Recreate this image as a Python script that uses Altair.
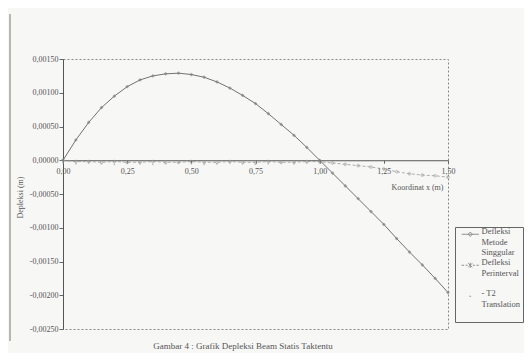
import altair as alt
import pandas as pd

# ---- data ----
x_vals = [0.00, 0.05, 0.10, 0.15, 0.20, 0.25, 0.30, 0.35, 0.40, 0.45, 0.50,
          0.55, 0.60, 0.65, 0.70, 0.75, 0.80, 0.85, 0.90, 0.95, 1.00,
          1.05, 1.10, 1.15, 1.20, 1.25, 1.30, 1.35, 1.40, 1.45, 1.50]

defl_singular = [0.0, 0.00030, 0.00056, 0.00078, 0.00095, 0.00109, 0.00119, 0.00125,
                 0.00128, 0.00129, 0.00127, 0.00123, 0.00116, 0.00107, 0.00096,
                 0.00084, 0.00069, 0.00053, 0.00037, 0.00019, 0.0,
                 -0.00019, -0.00038, -0.00057, -0.00076, -0.00095, -0.00116,
                 -0.00136, -0.00155, -0.00175, -0.00196]

defl_perinterval = [0.0, -0.00002, -0.00002, -0.00003, -0.00002, -0.00003, -0.00003,
                    -0.00002, -0.00003, -0.00003, -0.00002, -0.00003, -0.00003,
                    -0.00002, -0.00003, -0.00003, -0.00002, -0.00003, -0.00003,
                    -0.00002, -0.00002, -0.00004, -0.00006, -0.00008, -0.00010,
                    -0.00013, -0.00017, -0.00020, -0.00022, -0.00023, -0.00025]

t2_translation = [-0.00004, -0.00005, -0.00004, -0.00005, -0.00006, -0.00004, -0.00005,
                  -0.00006, -0.00005, -0.00004, -0.00005, -0.00006, -0.00005,
                  -0.00004, -0.00005, -0.00006, -0.00005, -0.00004, -0.00005,
                  -0.00004, -0.00004]

legend_labels = ["Defleksi|Metode|Singgular", "Defleksi|Perinterval| ", "- T2|Translation| "]
y_ticks = [0.0015, 0.001, 0.0005, 0.0, -0.0005, -0.001, -0.0015, -0.002, -0.0025]
x_ticks = [0.0, 0.25, 0.5, 0.75, 1.0, 1.25, 1.5]
caption = "Gambar 4 : Grafik Depleksi Beam Statis Taktentu"

FONT = "Liberation Serif"

df = pd.DataFrame({"x": x_vals, "s1": defl_singular, "s2": defl_perinterval})
df3 = pd.DataFrame({"x": x_vals[:len(t2_translation)], "s3": t2_translation})

xenc = alt.X("x:Q",
             scale=alt.Scale(domain=[0, 1.5], nice=False, zero=False),
             axis=alt.Axis(values=x_ticks,
                           labelExpr="replace(format(datum.value, '.2f'), '.', ',')",
                           offset=-168.75, title="Koordinat x (m)",
                           titleX=380, titleY=27, titleAlign="right",
                           titleBaseline="middle", titleFontWeight="normal",
                           titleFont=FONT, titleFontSize=8, titleColor="#555",
                           labelFont=FONT, labelFontSize=8, labelColor="#555",
                           tickSize=3, labelPadding=4, labelFlush=False,
                           domainColor="#555", tickColor="#666", grid=False))

def yenc(field):
    return alt.Y(field + ":Q",
                 scale=alt.Scale(domain=[-0.0025, 0.0015], nice=False, zero=False),
                 axis=alt.Axis(values=y_ticks,
                               labelExpr="replace(replace(format(datum.value, '.5f'), '.', ','), '\u2212', '-')",
                               title="Depleksi (m)", titleX=-43, titleY=138,
                               titleAngle=-90, titleAlign="center",
                               titleBaseline="middle", titleFontWeight="normal",
                               titleFont=FONT, titleFontSize=8, titleColor="#555",
                               labelFont=FONT, labelFontSize=8, labelColor="#555",
                               tickSize=4, labelPadding=1, labelFlush=False,
                               domainColor="#555", tickColor="#666", grid=False))

base = alt.Chart(df)

line1 = base.mark_line(color="#727272", strokeWidth=1).encode(x=xenc, y=yenc("s1"))
pts1 = base.mark_point(shape="diamond", filled=True, size=14, color="#7e7e7e").encode(
    x=xenc, y=yenc("s1"))

line2 = base.mark_line(color="#9a9a9a", strokeWidth=0.8, strokeDash=[3, 2]).encode(
    x=xenc, y=yenc("s2"))
pts2 = base.mark_point(shape="cross", filled=False, size=8, strokeWidth=0.7,
                       color="#9a9a9a").encode(x=xenc, y=yenc("s2"))

pts3 = alt.Chart(df3).mark_circle(size=3, color="#a5a5a5").encode(x=xenc, y=yenc("s3"))

# legend glyphs: short line segment with the series marker (unit = 2 px at size 16)
shape_paths = [
    "M-4.3,0H4.3M-1.1,0L0,-1.1L1.1,0L0,1.1Z",
    "M-4.3,0H-3.1M-2.3,0H-1.3M1.3,0H2.3M3.1,0H4.3M-1,-1L1,1M-1,1L1,-1M0,-1.3V1.3",
    "M-0.4,0H0.4",
]

legend_layer = base.transform_filter("datum.x > 10").mark_point(filled=False).encode(
    x=xenc, y=yenc("s1"),
    shape=alt.Shape("lab:N",
                    scale=alt.Scale(domain=legend_labels, range=shape_paths),
                    legend=alt.Legend(title=None, orient="none", legendX=392, legendY=168,
                                      strokeColor="#666", fillColor="#f7f7f5",
                                      padding=3, symbolSize=16, symbolStrokeWidth=1,
                                      symbolOffset=8,
                                      symbolStrokeColor="#666", symbolFillColor="transparent",
                                      labelExpr="split(datum.label, '|')",
                                      labelFont=FONT, labelFontSize=8.5, labelColor="#555",
                                      labelBaseline="alphabetic", labelOffset=7, rowPadding=1,
                                      labelLimit=80)))

cap = alt.Chart(pd.DataFrame({"t": [caption]})).mark_text(
    font=FONT, fontSize=9, color="#555", align="center", baseline="middle").encode(
    text="t:N", x=alt.value(180), y=alt.value(287))

frame = alt.Chart(pd.DataFrame({"a": [0]})).mark_rule(color="#777", strokeWidth=1).encode(
    x=alt.value(-53), y=alt.value(-45), y2=alt.value(282))

chart = alt.layer(frame, line2, pts2, pts3, line1, pts1, legend_layer, cap).properties(
    width=385, height=270,
    autosize=alt.AutoSizeParams(type="none"),
    padding={"left": 55, "top": 51, "right": 76, "bottom": 24},
    background="#f7f7f5",
).configure_view(stroke="#888", strokeDash=[2, 2], strokeWidth=1)

chart.save("out.html", embed_options={"renderer": "svg", "actions": False})
